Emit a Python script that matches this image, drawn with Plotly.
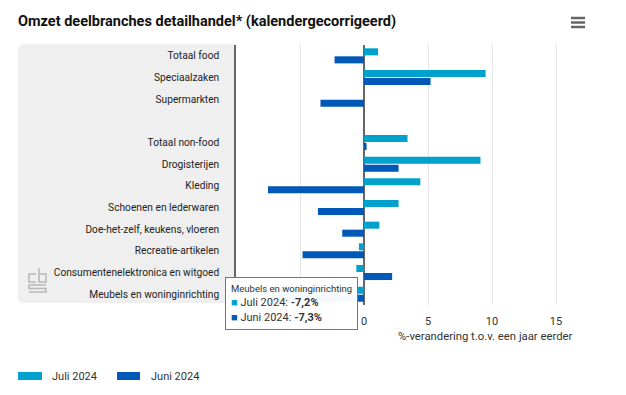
import plotly.graph_objects as go

# ---- data ----
categories = ["Totaal food", "Speciaalzaken", "Supermarkten", " ",
              "Totaal non-food", "Drogisterijen", "Kleding",
              "Schoenen en lederwaren", "Doe-het-zelf, keukens, vloeren",
              "Recreatie-artikelen", "Consumentenelektronica en witgoed",
              "Meubels en woninginrichting"]
juli_2024 = [1.1, 9.5, 0.0, None, 3.4, 9.1, 4.4, 2.7, 1.2, -0.4, -0.6, -7.2]
juni_2024 = [-2.3, 5.2, -3.4, None, 0.2, 2.7, -7.5, -3.6, -1.7, -4.8, 2.2, -7.3]
series_names = ["Juli 2024", "Juni 2024"]
x_ticks = [-10, -5, 0, 5, 10, 15, 20]
x_ticklabels = ["", "", "0", "5", "10", "15", ""]  # -10 / -5 are hidden behind the tooltip

C_JULI = "#00a1cd"
C_JUNI = "#0058b8"
FONT = "Roboto"

W_IMG, H_IMG = 626, 395
L, R, T, B = 236, 620, 45, 305
PW, PH = R - L, B - T


def px(x):
    return (x - L) / PW


def py(y):
    return (B - y) / PH


def poly(points):
    return "M " + " L ".join(f"{px(a)},{py(b)}" for a, b in points)


fig = go.Figure()
fig.add_trace(go.Bar(y=categories, x=juli_2024, name=series_names[0], orientation="h",
                     marker=dict(color=C_JULI, line=dict(width=0)), showlegend=False))
fig.add_trace(go.Bar(y=categories, x=juni_2024, name=series_names[1], orientation="h",
                     marker=dict(color=C_JUNI, line=dict(width=0)), showlegend=False))

shapes = []
# grey label panel with rounded left corners
r = 6
x0, x1, y0, y1 = 18, 236, 44, 303
path = (f"M {px(x1)},{py(y0)} L {px(x0 + r)},{py(y0)} Q {px(x0)},{py(y0)} {px(x0)},{py(y0 + r)} "
        f"L {px(x0)},{py(y1 - r)} Q {px(x0)},{py(y1)} {px(x0 + r)},{py(y1)} L {px(x1)},{py(y1)} Z")
shapes.append(dict(type="path", xref="paper", yref="paper", path=path,
                   fillcolor="#efefef", line=dict(width=0), layer="below"))
# cbs logo (outline sketch)
logo_paths = [
    [(36, 274), (29, 274), (29, 282), (36, 282)],                      # c
    [(39, 268), (39, 282), (46, 282), (46, 274), (39, 274)],           # b
    [(46, 285), (29, 285), (29, 288.5), (46, 288.5), (46, 292), (29, 292)],  # s
]
for pts in logo_paths:
    shapes.append(dict(type="path", xref="paper", yref="paper", path=poly(pts),
                       line=dict(color="#b8b8b8", width=1.6)))
# hamburger icon
for yy in (18, 22.5, 27):
    shapes.append(dict(type="line", xref="paper", yref="paper",
                       x0=px(571), x1=px(585), y0=py(yy), y1=py(yy),
                       line=dict(color="#666666", width=2.5)))
# custom legend symbols
shapes.append(dict(type="rect", xref="paper", yref="paper", x0=px(18), x1=px(42),
                   y0=py(380), y1=py(372), fillcolor=C_JULI, line=dict(width=0)))
shapes.append(dict(type="rect", xref="paper", yref="paper", x0=px(117), x1=px(140),
                   y0=py(380), y1=py(372), fillcolor=C_JUNI, line=dict(width=0)))

annotations = [
    dict(xref="paper", yref="paper", x=px(50), y=py(376), xanchor="left", yanchor="middle",
         text=series_names[0], showarrow=False, font=dict(family=FONT, size=11, color="#333")),
    dict(xref="paper", yref="paper", x=px(149), y=py(376), xanchor="left", yanchor="middle",
         text=series_names[1], showarrow=False, font=dict(family=FONT, size=11, color="#333")),
    dict(xref="paper", yref="paper", x=px(485), y=py(336), xanchor="center", yanchor="middle",
         text="%-verandering t.o.v. een jaar eerder", showarrow=False,
         font=dict(family=FONT, size=11.3, color="#333")),
    # hover tooltip as shown in the reference
    dict(xref="paper", yref="paper", x=px(225), y=py(277), xanchor="left", yanchor="top",
         text=("<span style='font-size:9.5px;color:#333'>Meubels en woninginrichting</span><br>"
               f"<span style='color:{C_JULI}'>■</span> Juli 2024: <b>-7,2%</b><br>"
               f"<span style='color:{C_JUNI}'>■</span> Juni 2024: <b>-7,3%</b>"),
         align="left", showarrow=False, bgcolor="rgba(255,255,255,0.96)",
         bordercolor=C_JULI, borderwidth=1, borderpad=5,
         font=dict(family=FONT, size=11, color="#333")),
]

fig.update_layout(
    width=W_IMG, height=H_IMG,
    margin=dict(l=L, r=W_IMG - R, t=T, b=H_IMG - B),
    paper_bgcolor="white", plot_bgcolor="white",
    barmode="group", bargap=0.26, bargroupgap=0.12,
    title=dict(text="<b>Omzet deelbranches detailhandel* (kalendergecorrigeerd)</b>",
               x=18 / W_IMG, xanchor="left", y=1 - 21 / H_IMG, yanchor="middle",
               font=dict(family=FONT, size=14.5, color="#111")),
    font=dict(family=FONT, size=11, color="#333"),
    shapes=shapes, annotations=annotations,
    xaxis=dict(range=[-10, 20], tickvals=x_ticks, ticktext=x_ticklabels,
               showgrid=True, gridcolor="#e6e6e6", gridwidth=1,
               zeroline=True, zerolinecolor="#666666", zerolinewidth=2,
               showline=False, ticks="", ticklabelstandoff=8,
               tickfont=dict(family=FONT, size=11, color="#333"), fixedrange=True),
    yaxis=dict(autorange="reversed", categoryorder="array", categoryarray=categories,
               showline=True, linecolor="#666666", linewidth=1.5, showgrid=False,
               ticks="", ticklabelstandoff=13,
               tickfont=dict(family=FONT, size=10.2, color="#222"), fixedrange=True),
)

fig.write_html("out.html", config={"displayModeBar": False},
               post_script="document.body.style.margin='0';document.body.style.overflow='hidden';")
